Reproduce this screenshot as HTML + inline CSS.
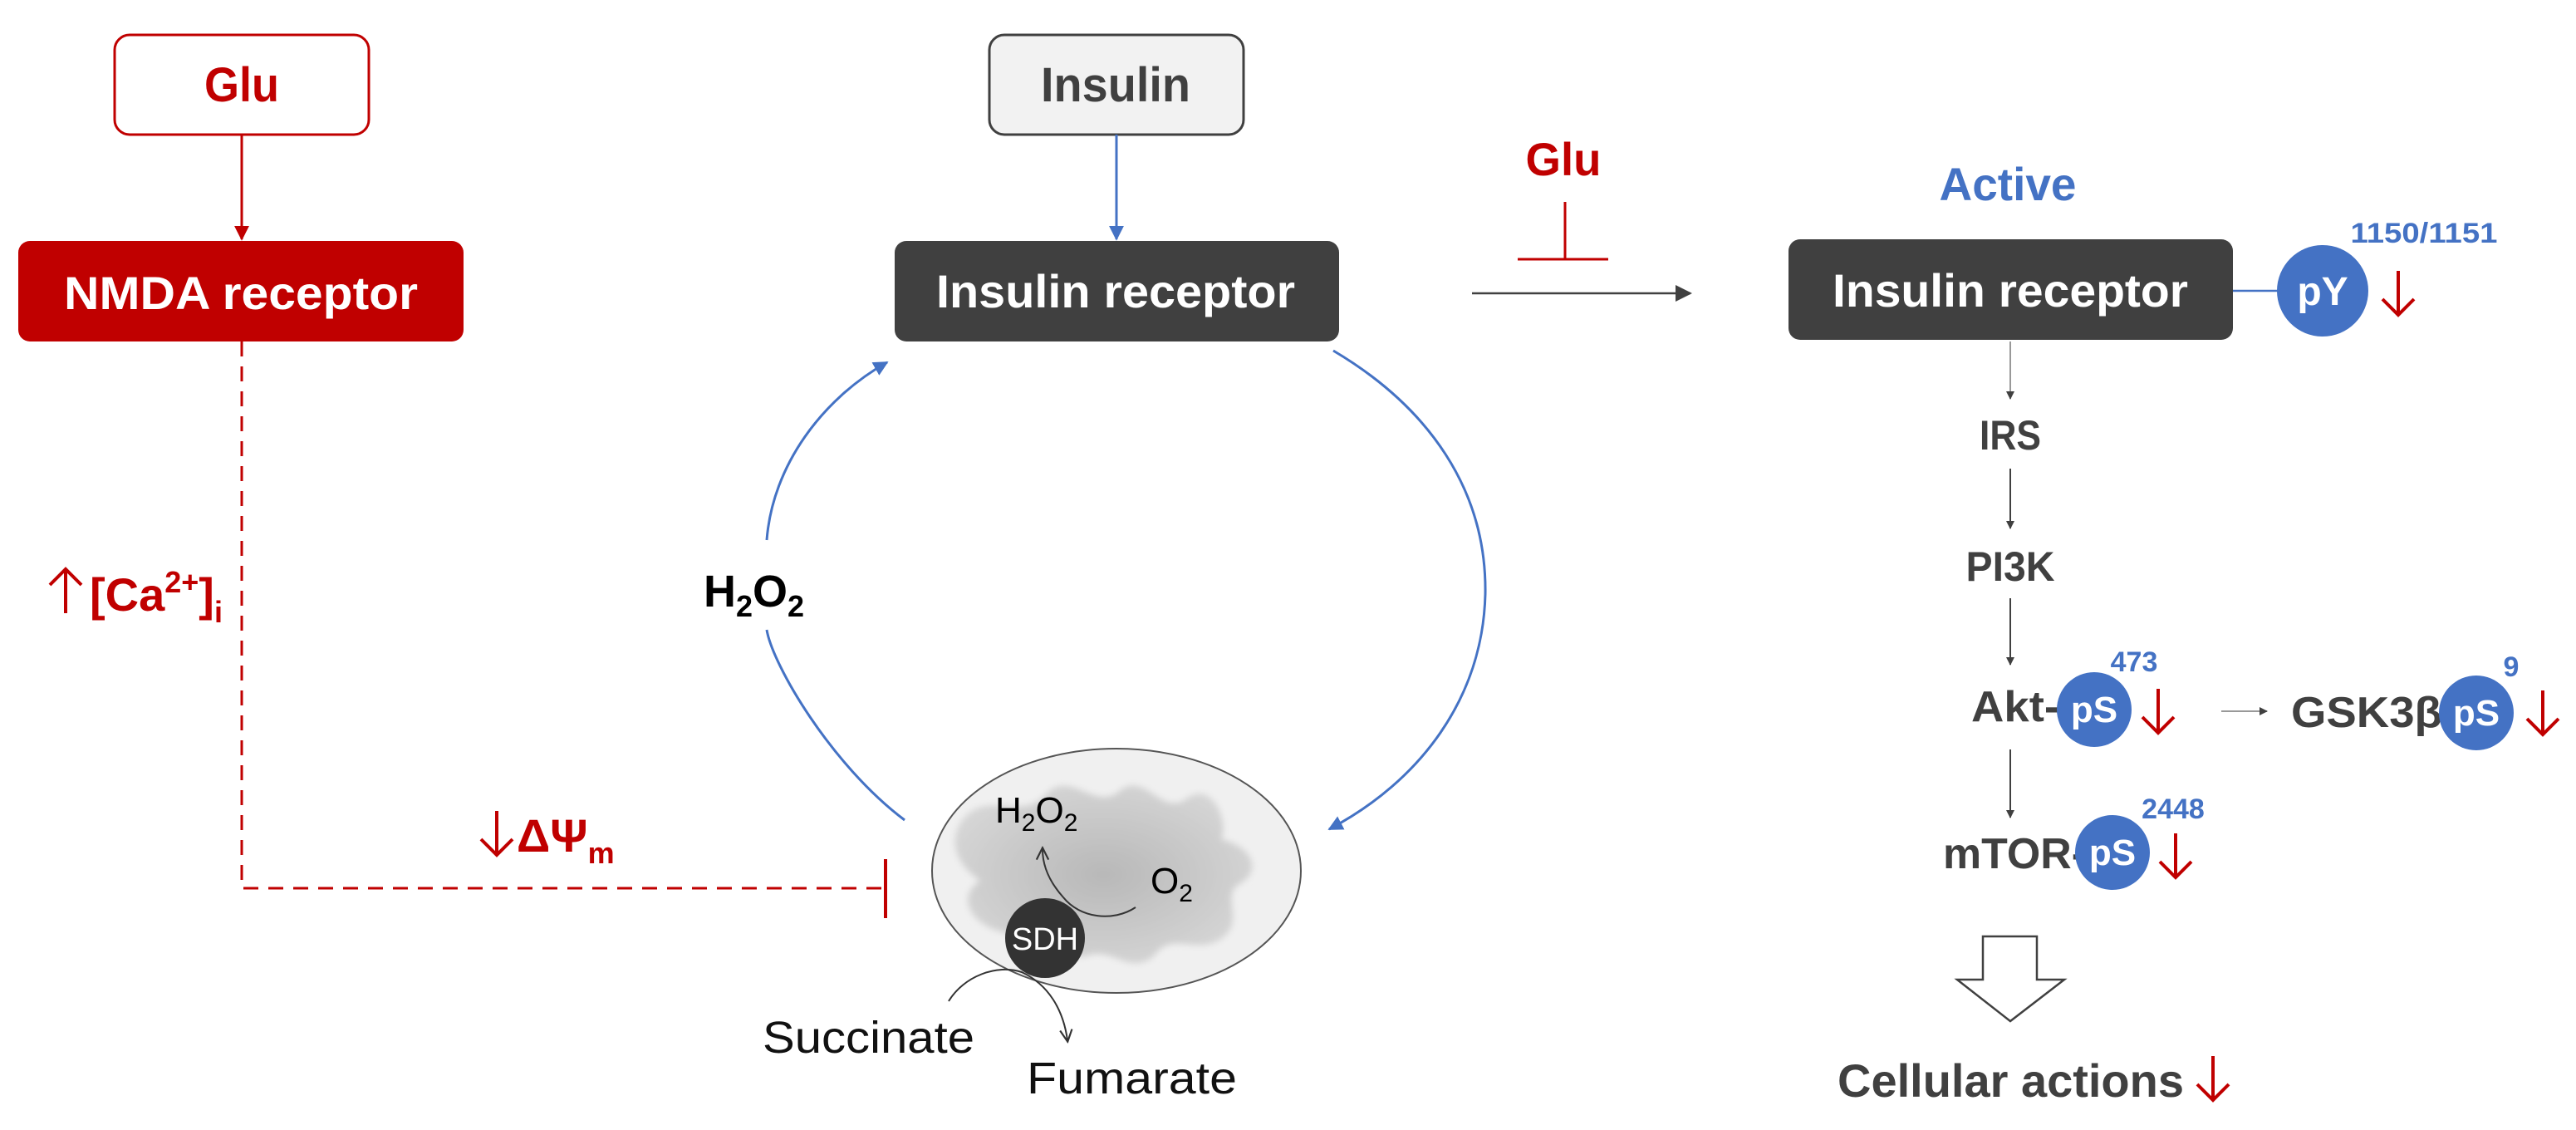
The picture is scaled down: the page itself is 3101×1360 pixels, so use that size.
<!DOCTYPE html>
<html><head><meta charset="utf-8"><style>html,body{margin:0;padding:0;background:#fff}svg{display:block}text{font-family:"Liberation Sans",sans-serif;font-weight:bold}text.n{font-weight:normal}</style></head><body>
<svg width="3101" height="1360" viewBox="0 0 3101 1360" xmlns="http://www.w3.org/2000/svg">
<defs>
<marker id="ab" viewBox="0 0 10 10" refX="9" refY="5" markerWidth="6" markerHeight="6" orient="auto"><path d="M0,0L10,5L0,10z" fill="#4472c4"/></marker>
<marker id="ar" viewBox="0 0 10 10" refX="9" refY="5" markerWidth="6" markerHeight="6" orient="auto"><path d="M0,0L10,5L0,10z" fill="#c00000"/></marker>
<marker id="ak" viewBox="0 0 10 10" refX="9" refY="5" markerWidth="5" markerHeight="5" orient="auto"><path d="M0,0L10,5L0,10z" fill="#404040"/></marker>
<marker id="ak2" viewBox="0 0 10 10" refX="9" refY="5" markerWidth="8" markerHeight="8" orient="auto"><path d="M0,0L10,5L0,10z" fill="#404040"/></marker>
<marker id="ao" viewBox="0 0 10 10" refX="8" refY="5" markerWidth="9" markerHeight="9" orient="auto"><path d="M1,1L9,5L1,9" fill="none" stroke="#333" stroke-width="1.2"/></marker>
<radialGradient id="bg" cx="0.5" cy="0.5" r="0.6"><stop offset="0" stop-color="#b8b8b8"/><stop offset="1" stop-color="#d8d8d8"/></radialGradient>
<filter id="bl"><feGaussianBlur stdDeviation="4"/></filter>
<g id="da"><path d="M0,-27 L0,26 M-19,7 L0,26 L19,7" fill="none" stroke="#c00000" stroke-width="4"/></g>
</defs>

<!-- Glu box -->
<rect x="138" y="42" width="306" height="120" rx="18" fill="#fff" stroke="#c00000" stroke-width="3"/>
<text x="291" y="122" font-size="58" fill="#c00000" text-anchor="middle" textLength="90" lengthAdjust="spacingAndGlyphs">Glu</text>
<line x1="291" y1="162" x2="291" y2="288" stroke="#c00000" stroke-width="3" marker-end="url(#ar)"/>
<rect x="22" y="290" width="536" height="121" rx="14" fill="#c00000"/>
<text x="290" y="372" font-size="56" fill="#fff" text-anchor="middle" textLength="426" lengthAdjust="spacingAndGlyphs">NMDA receptor</text>

<!-- dashed -->
<path d="M291,411 L291,1069 L1062,1069" fill="none" stroke="#c00000" stroke-width="3" stroke-dasharray="18,12"/>
<line x1="1066" y1="1034" x2="1066" y2="1105" stroke="#c00000" stroke-width="4"/>
<use href="#da" transform="translate(79,711) rotate(180)"/>
<text x="108" y="735" font-size="56" fill="#c00000">[Ca<tspan font-size="36" dy="-22">2+</tspan><tspan dy="22">]</tspan><tspan font-size="36" dy="14">i</tspan></text>
<use href="#da" transform="translate(598,1003)"/>
<text x="622" y="1025" font-size="56" fill="#c00000">ΔΨ<tspan font-size="36" dy="14">m</tspan></text>

<!-- Insulin -->
<rect x="1191" y="42" width="306" height="120" rx="18" fill="#f2f2f2" stroke="#404040" stroke-width="3"/>
<text x="1343" y="122" font-size="58" fill="#404040" text-anchor="middle" textLength="180" lengthAdjust="spacingAndGlyphs">Insulin</text>
<line x1="1344" y1="162" x2="1344" y2="288" stroke="#4472c4" stroke-width="3" marker-end="url(#ab)"/>
<rect x="1077" y="290" width="535" height="121" rx="14" fill="#404040"/>
<text x="1343" y="370" font-size="56" fill="#fff" text-anchor="middle" textLength="432" lengthAdjust="spacingAndGlyphs">Insulin receptor</text>

<!-- arcs -->
<path d="M1089,987 C1000,920 930,800 923,758" fill="none" stroke="#4472c4" stroke-width="3"/>
<path d="M923,650 C930,560 990,480 1068,436" fill="none" stroke="#4472c4" stroke-width="3" marker-end="url(#ab)"/>
<path d="M1605,422 C1720,490 1790,590 1788,715 C1785,840 1710,940 1600,998" fill="none" stroke="#4472c4" stroke-width="3" marker-end="url(#ab)"/>
<text x="847" y="730" font-size="54" fill="#000">H<tspan font-size="36" dy="12">2</tspan><tspan dy="-12">O</tspan><tspan font-size="36" dy="12">2</tspan></text>

<!-- mitochondria -->
<ellipse cx="1344" cy="1048" rx="222" ry="147" fill="#f0f0f0" stroke="#555" stroke-width="2"/>
<path filter="url(#bl)" fill="url(#bg)" d="M1160,985 C1190,950 1230,990 1260,955 C1290,925 1320,980 1350,950 C1380,930 1400,985 1430,960 C1460,940 1480,990 1470,1010 C1510,1020 1520,1050 1490,1065 C1470,1080 1500,1110 1470,1130 C1440,1150 1410,1120 1390,1150 C1360,1175 1340,1140 1310,1150 C1270,1160 1240,1130 1200,1120 C1170,1110 1150,1080 1180,1060 C1150,1040 1140,1010 1160,985z"/>
<text class="n" x="1198" y="990" font-size="44" fill="#000">H<tspan font-size="30" dy="10">2</tspan><tspan dy="-10">O</tspan><tspan font-size="30" dy="10">2</tspan></text>
<text class="n" x="1385" y="1075" font-size="44" fill="#000">O<tspan font-size="30" dy="10">2</tspan></text>
<path d="M1367,1092 C1340,1110 1300,1105 1280,1080 C1262,1060 1255,1040 1255,1022" fill="none" stroke="#333" stroke-width="2" marker-end="url(#ao)"/>
<circle cx="1258" cy="1129" r="48" fill="#333"/>
<text class="n" x="1258" y="1143" font-size="38" fill="#fff" text-anchor="middle">SDH</text>
<path d="M1142,1205 C1160,1175 1200,1160 1230,1170 C1262,1185 1280,1215 1285,1252" fill="none" stroke="#333" stroke-width="2" marker-end="url(#ao)"/>
<text class="n" x="918" y="1267" font-size="54" fill="#111" textLength="255" lengthAdjust="spacingAndGlyphs">Succinate</text>
<text class="n" x="1236" y="1316" font-size="54" fill="#111" textLength="253" lengthAdjust="spacingAndGlyphs">Fumarate</text>

<!-- Glu inhibit -->
<text x="1882" y="211" font-size="56" fill="#c00000" text-anchor="middle" textLength="91" lengthAdjust="spacingAndGlyphs">Glu</text>
<line x1="1884" y1="243" x2="1884" y2="312" stroke="#c00000" stroke-width="3"/>
<line x1="1827" y1="312" x2="1936" y2="312" stroke="#c00000" stroke-width="3"/>
<line x1="1772" y1="353" x2="2035" y2="353" stroke="#404040" stroke-width="2.5" marker-end="url(#ak2)"/>

<!-- right -->
<text x="2417" y="241" font-size="56" fill="#4472c4" text-anchor="middle" textLength="165" lengthAdjust="spacingAndGlyphs">Active</text>
<rect x="2153" y="288" width="535" height="121" rx="14" fill="#404040"/>
<text x="2420" y="369" font-size="56" fill="#fff" text-anchor="middle" textLength="428" lengthAdjust="spacingAndGlyphs">Insulin receptor</text>
<line x1="2688" y1="350" x2="2744" y2="350" stroke="#4472c4" stroke-width="2.5"/>
<circle cx="2796" cy="350" r="55" fill="#4472c4"/>
<text x="2796" y="367" font-size="48" fill="#fff" text-anchor="middle">pY</text>
<text x="2918" y="292" font-size="34" fill="#4472c4" text-anchor="middle" textLength="177" lengthAdjust="spacingAndGlyphs">1150/1151</text>
<use href="#da" transform="translate(2887,353)"/>

<line x1="2420" y1="411" x2="2420" y2="480" stroke="#999" stroke-width="2" marker-end="url(#ak)"/>
<text x="2420" y="541" font-size="50" fill="#404040" text-anchor="middle" textLength="74" lengthAdjust="spacingAndGlyphs">IRS</text>
<line x1="2420" y1="564" x2="2420" y2="636" stroke="#404040" stroke-width="2" marker-end="url(#ak)"/>
<text x="2420" y="699" font-size="50" fill="#404040" text-anchor="middle" textLength="107" lengthAdjust="spacingAndGlyphs">PI3K</text>
<line x1="2420" y1="720" x2="2420" y2="800" stroke="#404040" stroke-width="2" marker-end="url(#ak)"/>

<text x="2373" y="868" font-size="52" fill="#404040" textLength="106" lengthAdjust="spacingAndGlyphs">Akt-</text>
<circle cx="2521" cy="854" r="45" fill="#4472c4"/>
<text x="2521" y="869" font-size="44" fill="#fff" text-anchor="middle">pS</text>
<text x="2569" y="808" font-size="34" fill="#4472c4" text-anchor="middle">473</text>
<use href="#da" transform="translate(2598,856)"/>
<line x1="2674" y1="856" x2="2729" y2="856" stroke="#999" stroke-width="2" marker-end="url(#ak)"/>
<text x="2758" y="875" font-size="52" fill="#404040" textLength="200" lengthAdjust="spacingAndGlyphs">GSK3β-</text>
<circle cx="2981" cy="858" r="45" fill="#4472c4"/>
<text x="2981" y="873" font-size="44" fill="#fff" text-anchor="middle">pS</text>
<text x="3023" y="814" font-size="34" fill="#4472c4" text-anchor="middle">9</text>
<use href="#da" transform="translate(3061,858)"/>

<line x1="2420" y1="902" x2="2420" y2="984" stroke="#404040" stroke-width="2" marker-end="url(#ak)"/>
<text x="2339" y="1045" font-size="52" fill="#404040" textLength="172" lengthAdjust="spacingAndGlyphs">mTOR-</text>
<circle cx="2543" cy="1026" r="45" fill="#4472c4"/>
<text x="2543" y="1041" font-size="44" fill="#fff" text-anchor="middle">pS</text>
<text x="2616" y="985" font-size="34" fill="#4472c4" text-anchor="middle">2448</text>
<use href="#da" transform="translate(2619,1030)"/>

<path d="M2387,1127 L2452,1127 L2452,1179 L2485,1179 L2420,1229 L2356,1179 L2387,1179z" fill="#fff" stroke="#404040" stroke-width="2.5"/>
<text x="2212" y="1320" font-size="56" fill="#404040" textLength="417" lengthAdjust="spacingAndGlyphs">Cellular actions</text>
<use href="#da" transform="translate(2664,1298)"/>
</svg>
</body></html>
